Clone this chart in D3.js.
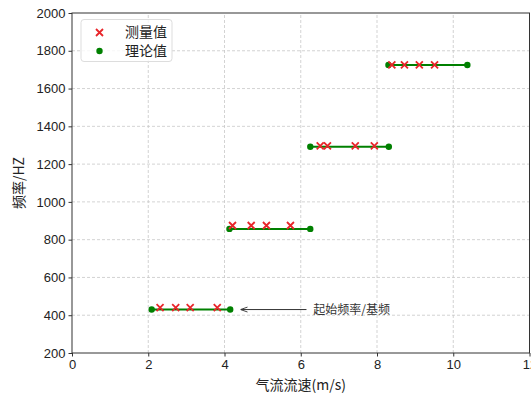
<!DOCTYPE html>
<html>
<head>
<meta charset="utf-8">
<script src="https://cdn.jsdelivr.net/npm/d3@7"></script>
<style>
  html, body { margin: 0; padding: 0; background: #fff; }
  svg { display: block; font-family: "Noto Sans CJK SC", "DejaVu Sans", sans-serif; }
</style>
</head>
<body>
<div id="chart"></div>
<script>
// measured frequencies (red x) per airflow speed
const measuredX = [2.31, 2.72, 3.10, 3.81, 4.21, 4.70, 5.10, 5.73, 6.51, 6.70, 7.43, 7.93, 8.39, 8.72, 9.11, 9.51];
const measuredY = [440, 440, 440, 440, 875, 875, 875, 875, 1297, 1297, 1297, 1297, 1725, 1725, 1725, 1725];

// theoretical segments: start/end speed and frequency
const theoryX0 = [2.09, 4.13, 6.25, 8.30];
const theoryX1 = [4.15, 6.25, 8.31, 10.37];
const theoryY  = [430, 857, 1292, 1725];

const xTicks = [0, 2, 4, 6, 8, 10, 12];
const yTicks = [200, 400, 600, 800, 1000, 1200, 1400, 1600, 1800, 2000];

const legendLabels = ['测量值', '理论值'];
const annotation = { text: '起始频率/基频', from: [6.15, 430], to: [4.42, 430], textX: 6.33 };

const W = 531, H = 400;
const margin = { top: 13, right: 1.5, bottom: 47, left: 72 };

const svg = d3.select('#chart').append('svg')
  .attr('width', W).attr('height', H);

const x = d3.scaleLinear().domain([0, 12]).range([margin.left, W - margin.right]);
const y = d3.scaleLinear().domain([200, 2000]).range([H - margin.bottom, margin.top]);

// grid
const grid = svg.append('g').attr('stroke', '#c8c8c8').attr('stroke-width', 0.8)
  .attr('stroke-dasharray', '3,2');
grid.selectAll('.gx').data(xTicks.slice(1, -1)).join('line')
  .attr('x1', d => x(d)).attr('x2', d => x(d))
  .attr('y1', y(200)).attr('y2', y(2000));
grid.selectAll('.gy').data(yTicks.slice(1, -1)).join('line')
  .attr('x1', x(0)).attr('x2', x(12))
  .attr('y1', d => y(d)).attr('y2', d => y(d));

// axes
const xAxis = svg.append('g').attr('transform', `translate(0,${y(200)})`)
  .call(d3.axisBottom(x).tickValues(xTicks).tickFormat(d3.format('d')).tickSize(3.5).tickPadding(3));
const yAxis = svg.append('g').attr('transform', `translate(${x(0)},0)`)
  .call(d3.axisLeft(y).tickValues(yTicks).tickFormat(d3.format('d')).tickSize(3.5).tickPadding(3));
[xAxis, yAxis].forEach(a => {
  a.select('.domain').remove();
  a.selectAll('line').attr('stroke', '#333');
  a.selectAll('text').attr('fill', '#222').style('font-size', '13px')
    .style('font-family', '"Liberation Sans", sans-serif');
});

// frame
svg.append('rect')
  .attr('x', x(0)).attr('y', y(2000))
  .attr('width', x(12) - x(0)).attr('height', y(200) - y(2000))
  .attr('fill', 'none').attr('stroke', '#333').attr('stroke-width', 1);

// theory segments
svg.append('g').selectAll('line').data(theoryY).join('line')
  .attr('x1', (d, i) => x(theoryX0[i])).attr('x2', (d, i) => x(theoryX1[i]))
  .attr('y1', d => y(d)).attr('y2', d => y(d))
  .attr('stroke', 'green').attr('stroke-width', 2);

const theoryPts = theoryY.flatMap((d, i) => [[theoryX0[i], d], [theoryX1[i], d]]);
svg.append('g').selectAll('circle').data(theoryPts).join('circle')
  .attr('cx', d => x(d[0])).attr('cy', d => y(d[1])).attr('r', 3.2)
  .attr('fill', 'green');

// measured crosses
const cross = (cx, cy, s) => `M${cx - s},${cy - s}L${cx + s},${cy + s}M${cx - s},${cy + s}L${cx + s},${cy - s}`;
svg.append('g').selectAll('path').data(measuredX).join('path')
  .attr('d', (d, i) => cross(x(d), y(measuredY[i]), 3.5))
  .attr('stroke', '#e8252a').attr('stroke-width', 1.8).attr('fill', 'none');

// annotation
svg.append('defs').append('marker')
  .attr('id', 'arr').attr('viewBox', '0 0 10 10').attr('refX', 10).attr('refY', 5)
  .attr('markerWidth', 7).attr('markerHeight', 7).attr('orient', 'auto')
  .append('path').attr('d', 'M0,1.5L10,5L0,8.5').attr('fill', 'none')
  .attr('stroke', '#333').attr('stroke-width', 1.3);
svg.append('line')
  .attr('x1', x(annotation.from[0])).attr('y1', y(annotation.from[1]))
  .attr('x2', x(annotation.to[0])).attr('y2', y(annotation.to[1]))
  .attr('stroke', '#333').attr('stroke-width', 1).attr('marker-end', 'url(#arr)');
svg.append('text')
  .attr('x', x(annotation.textX)).attr('y', y(annotation.from[1]))
  .attr('dy', '0.35em').attr('fill', '#333').style('font-size', '12px')
  .text(annotation.text);

// axis labels
svg.append('text').attr('x', (x(0) + x(12)) / 2).attr('y', 390)
  .attr('text-anchor', 'middle').attr('fill', '#222').style('font-size', '14px')
  .text('气流流速(m/s)');
svg.append('text')
  .attr('transform', `translate(24,${(y(200) + y(2000)) / 2}) rotate(-90)`)
  .attr('text-anchor', 'middle').attr('fill', '#222').style('font-size', '14px')
  .text('频率/HZ');

// legend
const lg = svg.append('g');
lg.append('rect').attr('x', 81).attr('y', 19.5).attr('width', 91).attr('height', 42)
  .attr('rx', 3).attr('fill', '#fff').attr('fill-opacity', 0.8)
  .attr('stroke', '#ddd').attr('stroke-width', 1);
lg.append('path').attr('d', cross(99.5, 32.5, 3.5))
  .attr('stroke', '#e8252a').attr('stroke-width', 1.8);
lg.append('circle').attr('cx', 99.5).attr('cy', 51).attr('r', 3.2).attr('fill', 'green');
lg.selectAll('text').data(legendLabels).join('text')
  .attr('x', 125).attr('y', (d, i) => 32.5 + i * 18.5).attr('dy', '0.35em')
  .attr('fill', '#222').style('font-size', '14px').text(d => d);
</script>
</body>
</html>
